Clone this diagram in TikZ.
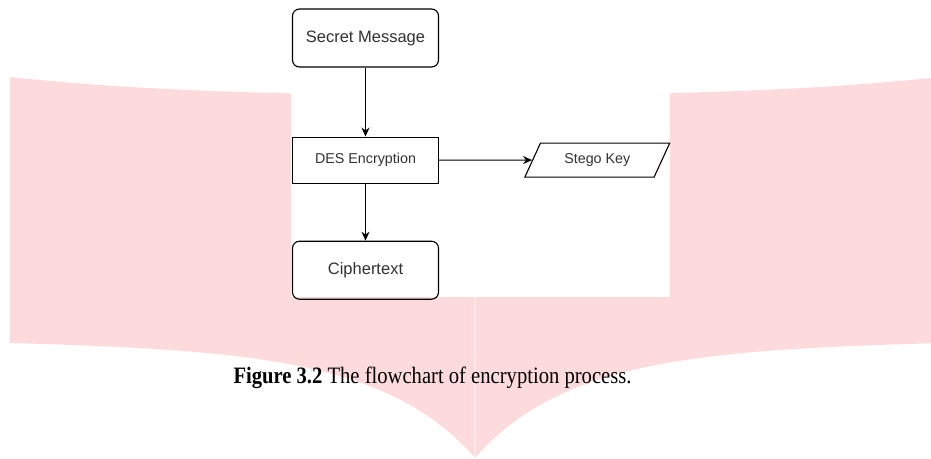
\documentclass[tikz,border=0pt]{standalone}
\usepackage{fontspec}
\setmainfont{Liberation Serif}
\setsansfont{Liberation Sans}
\usetikzlibrary{positioning,shapes.geometric,arrows.meta}
\definecolor{bannerpink}{RGB}{253,219,221}
\definecolor{boxtext}{RGB}{50,50,50}

\begin{document}
\begin{tikzpicture}[x=1pt, y=-1pt, line width=1.1pt,
        roundbox/.style={draw, rounded corners=7pt, minimum width=146pt, minimum height=58pt, inner sep=0pt, text=boxtext, font=\sffamily\fontsize{16.5}{20}\selectfont},
        procbox/.style={draw, rectangle, minimum width=146pt, minimum height=46pt, inner sep=0pt, text=boxtext, font=\sffamily\fontsize{14.3}{17}\selectfont},
        iobox/.style={draw, trapezium, trapezium left angle=55, trapezium right angle=125, trapezium stretches=true, minimum width=146pt, minimum height=34pt, inner sep=0pt, text=boxtext, font=\sffamily\fontsize{14.3}{17}\selectfont},
        flow/.style={-{Stealth[length=9pt,width=8pt]}}]
        \useasboundingbox (0,0) rectangle (931,458);

        % background banner
        \fill[bannerpink] (10,77) .. controls (150,92) and (300,95) .. (475,95) .. controls (650,95) and (800,92) .. (940,77)
            -- (940,343) .. controls (700,350) and (560,360) .. (475,458) .. controls (390,360) and (250,350) .. (10,343) -- cycle;
        \fill[white] (291,0) rectangle (670,297);
        \draw[white, opacity=0.4] (475,297) -- (475,458);

        \node[roundbox] (secret) at (365.5,38) {Secret Message};
        \node[procbox, below=69pt of secret] (des) {DES Encryption};
        \node[roundbox, below=57pt of des] (cipher) {Ciphertext};
        \node[iobox, right=93pt of des] (stego) {Stego Key};

        \draw[flow] (secret) -- (des);
        \draw[flow] (des) -- (cipher);
        \draw[flow] (des) -- (stego);

        \node[anchor=base, inner sep=0pt, font=\fontsize{23.5}{28}\selectfont] (caption) at (432.5,383.3)
            {\scalebox{0.877}[1]{\textbf{Figure 3.2} The flowchart of encryption process.}};
    \end{tikzpicture}
\end{document}
